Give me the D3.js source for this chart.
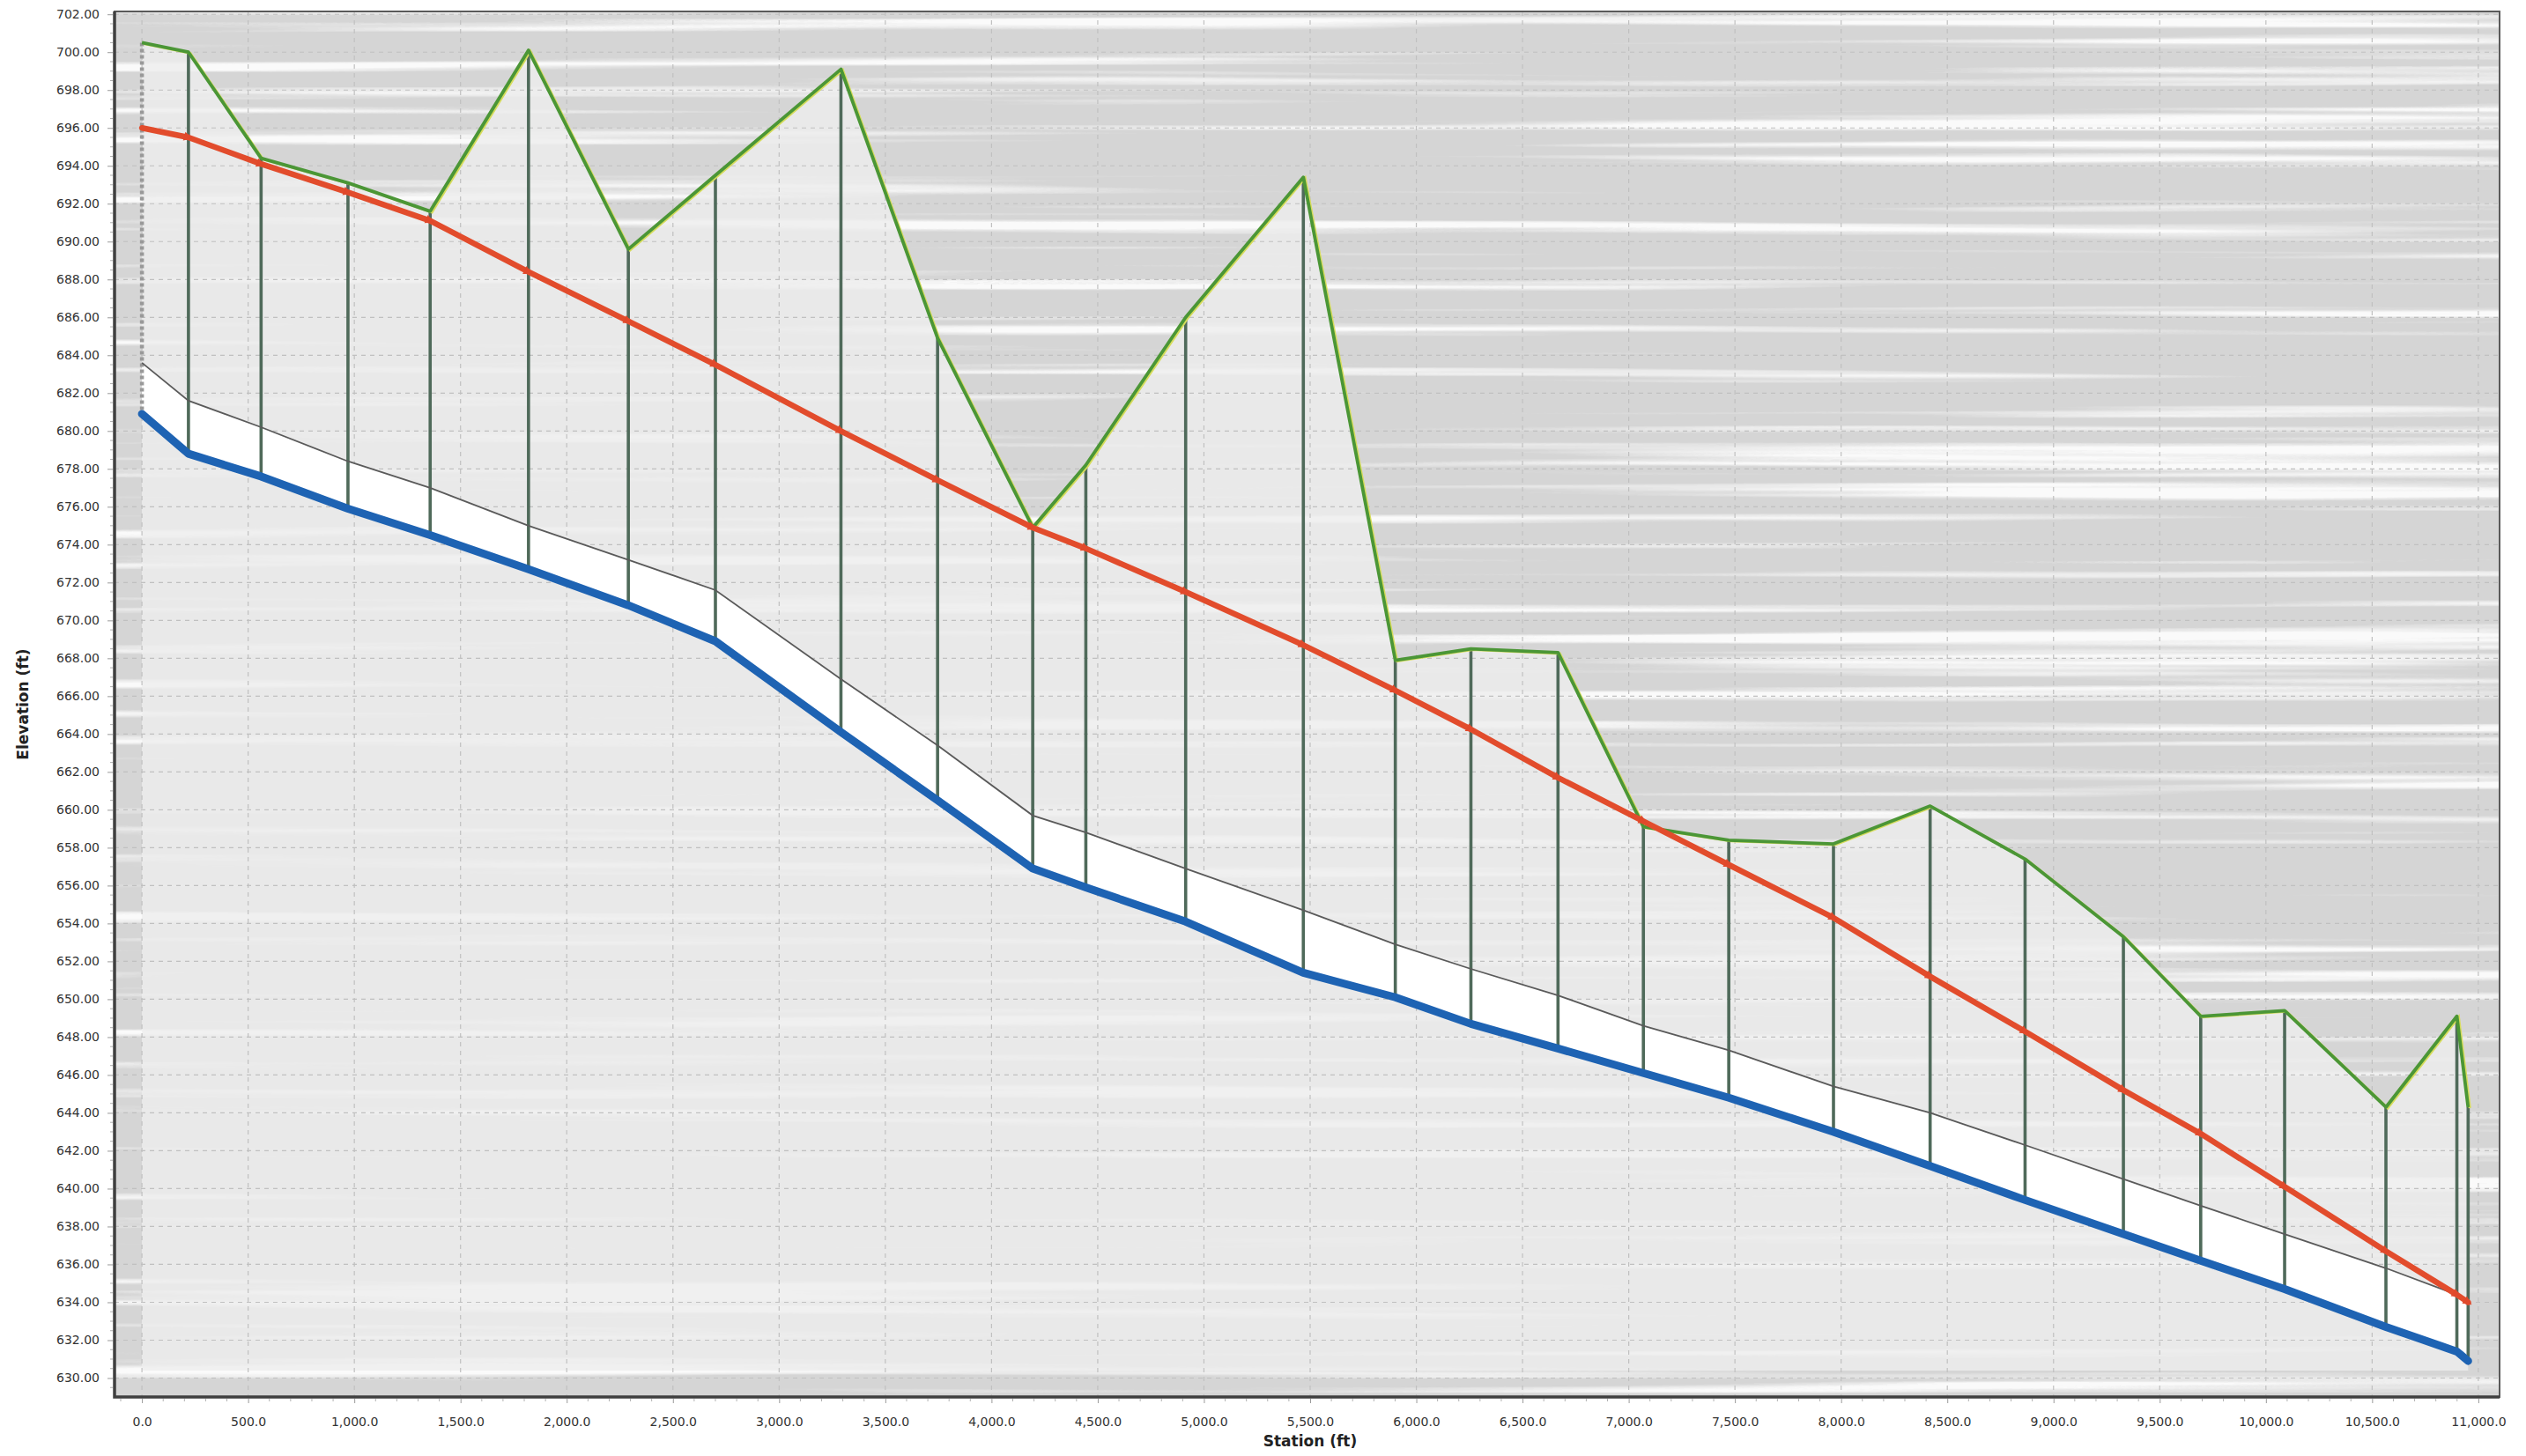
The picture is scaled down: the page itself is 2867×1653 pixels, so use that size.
<!DOCTYPE html>
<html>
<head>
<meta charset="utf-8">
<script src="https://cdn.jsdelivr.net/npm/d3@7"></script>
<style>
  body { margin: 0; background: #fff; }
  svg { display: block; font-family: "DejaVu Sans", Verdana, sans-serif; }
</style>
</head>
<body>
<svg width="2867" height="1653"></svg>
<script>
// manhole stations (ft) along the run, and the elevations (ft) at each one
const stations = [0, 219, 561, 970, 1357, 1820, 2290, 2700, 3291, 3746, 4194, 4444, 4914, 5468,
  5901, 6257, 6667, 7069, 7471, 7964, 8419, 8866, 9329, 9693, 10088, 10565, 10899, 10952]
const groundElev = [700.5, 700.0, 694.4, 693.1, 691.6, 700.1, 689.6, 693.5, 699.1, 684.9, 674.9, 678.2, 686.0, 693.4,
  667.9, 668.5, 668.3, 659.1, 658.4, 658.2, 660.2, 657.4, 653.3, 649.1, 649.4, 644.3, 649.1, 644.3]
const hglElev = [696.0, 695.5, 694.1, 692.6, 691.1, 688.4, 685.8, 683.5, 680.0, 677.4, 674.9, 673.8, 671.5, 668.7,
  666.3, 664.25, 661.7, 659.4, 657.1, 654.3, 651.2, 648.3, 645.2, 642.9, 640.1, 636.7, 634.4, 634.0]
const crownElev = [683.6, 681.6, 680.2, 678.4, 677.0, 675.0, 673.2, 671.6, 666.9, 663.4, 659.7, 658.8, 656.9, 654.7,
  652.9, 651.6, 650.2, 648.6, 647.3, 645.4, 644.0, 642.3, 640.5, 639.1, 637.6, 635.8, 634.4, 634.1]
const invertElev = [680.9, 678.8, 677.6, 675.9, 674.5, 672.7, 670.8, 668.9, 664.1, 660.5, 656.9, 655.9, 654.1, 651.4,
  650.1, 648.7, 647.4, 646.1, 644.8, 643.0, 641.2, 639.4, 637.6, 636.2, 634.7, 632.7, 631.4, 630.9]

const xTicks = d3.range(0, 11001, 500)
const yTicks = d3.range(630, 702.01, 2)

const rows = stations.map((s, i) => ({
  s: s,
  ground: groundElev[i],
  hgl: hglElev[i],
  crown: crownElev[i],
  invert: invertElev[i]
}))

var svg = d3.select("svg"),
    width = +svg.attr("width"),
    height = +svg.attr("height");

const margin = { top: 13, right: 30, bottom: 67, left: 130 }
const x0 = margin.left, x1 = width - margin.right
const y0 = margin.top, y1 = height - margin.bottom

const x = d3.scaleLinear().domain([-129, 11100]).range([x0, x1])
const y = d3.scaleLinear().domain([629.0, 702.15]).range([y1, y0])

const defs = svg.append("defs")
defs.append("clipPath").attr("id", "plotclip")
  .append("rect").attr("x", x0).attr("y", y0).attr("width", x1 - x0).attr("height", y1 - y0)

// scanned-paper look: thin horizontal light streaks
const streaks = defs.append("filter").attr("id", "streaks")
  .attr("filterUnits", "userSpaceOnUse")
  .attr("x", x0).attr("y", y0).attr("width", x1 - x0).attr("height", y1 - y0)
streaks.append("feTurbulence")
  .attr("type", "fractalNoise")
  .attr("baseFrequency", "0.0006 0.06")
  .attr("numOctaves", 3)
  .attr("seed", 11)
streaks.append("feColorMatrix")
  .attr("type", "matrix")
  .attr("values", "0 0 0 0 1  0 0 0 0 1  0 0 0 0 1  5 0 0 0 -2.75")

// red arrow marks on the hydraulic grade line
defs.append("marker").attr("id", "arrow")
  .attr("viewBox", "-6 -6 12 12")
  .attr("markerWidth", 12).attr("markerHeight", 12)
  .attr("markerUnits", "userSpaceOnUse")
  .attr("orient", "auto")
  .append("path").attr("d", "M-5,-5L5,0L-5,5Z").attr("fill", "#e0492b")

const plot = svg.append("g").attr("clip-path", "url(#plotclip)")

plot.append("rect")
  .attr("x", x0).attr("y", y0).attr("width", x1 - x0).attr("height", y1 - y0)
  .attr("fill", "#d5d5d5")

plot.append("rect")
  .attr("x", x0).attr("y", y0).attr("width", x1 - x0).attr("height", y1 - y0)
  .attr("filter", "url(#streaks)")
  .attr("opacity", 0.9)

// lighter ground below the surface line
const below = d3.area()
  .x(d => x(d.s))
  .y0(y(630.4))
  .y1(d => y(d.ground))
plot.append("path").datum(rows)
  .attr("d", below)
  .attr("fill", "#eeeeee")
  .attr("opacity", 0.8)

// dashed grid
plot.append("g").selectAll("line").data(yTicks).join("line")
  .attr("x1", x0).attr("x2", x1)
  .attr("y1", d => y(d)).attr("y2", d => y(d))
  .attr("stroke", "#c0c0c0")
  .attr("stroke-width", 1.2)
  .attr("stroke-dasharray", "5,5")
plot.append("g").selectAll("line").data(xTicks).join("line")
  .attr("x1", d => x(d)).attr("x2", d => x(d))
  .attr("y1", y0).attr("y2", y1)
  .attr("stroke", "#c0c0c0")
  .attr("stroke-width", 1.2)
  .attr("stroke-dasharray", "5,5")

// pipe barrel (crown to invert)
const barrel = d3.area()
  .x(d => x(d.s))
  .y0(d => y(d.invert))
  .y1(d => y(d.crown))
plot.append("path").datum(rows)
  .attr("d", barrel)
  .attr("fill", "#ffffff")

// manholes: from rim down to invert
plot.append("g").selectAll("line").data(rows).join("line")
  .attr("x1", d => x(d.s)).attr("x2", d => x(d.s))
  .attr("y1", d => y(d.ground)).attr("y2", d => y(d.invert))
  .attr("stroke", (d, i) => i === 0 ? "#999" : "#4f6a5a")
  .attr("stroke-width", (d, i) => i === 0 ? 4.5 : 3.6)
  .attr("stroke-dasharray", (d, i) => i === 0 ? "4,3" : null)

const line = key => d3.line().x(d => x(d.s)).y(d => y(d[key]))

plot.append("path").datum(rows)
  .attr("d", line("crown"))
  .attr("fill", "none")
  .attr("stroke", "#5a5a5a")
  .attr("stroke-width", 1.8)

// ground surface (yellow fringe from the scan, then green)
plot.append("path").datum(rows)
  .attr("d", line("ground"))
  .attr("transform", "translate(2,1)")
  .attr("fill", "none")
  .attr("stroke", "#d6dc5c")
  .attr("stroke-width", 3)
plot.append("path").datum(rows)
  .attr("d", line("ground"))
  .attr("fill", "none")
  .attr("stroke", "#4b9636")
  .attr("stroke-width", 3.8)
  .attr("stroke-linejoin", "round")

plot.append("path").datum(rows)
  .attr("d", line("invert"))
  .attr("fill", "none")
  .attr("stroke", "#1e63b3")
  .attr("stroke-width", 9)
  .attr("stroke-linejoin", "round")
  .attr("stroke-linecap", "round")

plot.append("path").datum(rows)
  .attr("d", line("hgl"))
  .attr("fill", "none")
  .attr("stroke", "#e24c2c")
  .attr("stroke-width", 6.5)
  .attr("stroke-linejoin", "round")
  .attr("stroke-linecap", "round")
  .attr("marker-mid", "url(#arrow)")
  .attr("marker-end", "url(#arrow)")

// frame
svg.append("rect")
  .attr("x", x0).attr("y", y0).attr("width", x1 - x0).attr("height", y1 - y0)
  .attr("fill", "none")
  .attr("stroke", "#5a5a5a")
  .attr("stroke-width", 2)
svg.append("path")
  .attr("d", `M${x0},${y0}V${y1}H${x1}`)
  .attr("fill", "none")
  .attr("stroke", "#3f3f3f")
  .attr("stroke-width", 3.5)

// axes
const yAxis = svg.append("g")
  .attr("transform", `translate(${x0 - 2},0)`)
  .call(d3.axisLeft(y).tickValues(yTicks).tickFormat(d3.format(".2f")).tickSize(6).tickPadding(9))
const xAxis = svg.append("g")
  .attr("transform", `translate(0,${y1 + 2})`)
  .call(d3.axisBottom(x).tickValues(xTicks).tickFormat(d3.format(",.1f")).tickSize(5).tickPadding(16))

for (const ax of [xAxis, yAxis]) {
  ax.select(".domain").remove()
  ax.selectAll(".tick line").attr("stroke", "#9a9a9a")
  ax.selectAll("text")
    .attr("fill", "#333")
    .style("font-size", "14px")
    .style("font-family", "'DejaVu Sans', Verdana, sans-serif")
}

// minor ticks
svg.append("g").selectAll("line").data(d3.range(629.5, 702, 0.5).filter(v => v % 2 !== 0)).join("line")
  .attr("x1", x0 - 5).attr("x2", x0 - 2)
  .attr("y1", d => y(d)).attr("y2", d => y(d))
  .attr("stroke", "#b0b0b0")
svg.append("g").selectAll("line").data(d3.range(-100, 11100, 100).filter(v => v % 500 !== 0)).join("line")
  .attr("x1", d => x(d)).attr("x2", d => x(d))
  .attr("y1", y1 + 2).attr("y2", y1 + 5)
  .attr("stroke", "#b0b0b0")

svg.append("text")
  .attr("x", (x(0) + x(11000)) / 2)
  .attr("y", 1642)
  .attr("text-anchor", "middle")
  .attr("font-weight", "bold")
  .attr("font-size", 17)
  .attr("fill", "#222")
  .text("Station (ft)")

svg.append("text")
  .attr("transform", `translate(32,${(y0 + y1) / 2}) rotate(-90)`)
  .attr("text-anchor", "middle")
  .attr("font-weight", "bold")
  .attr("font-size", 17)
  .attr("fill", "#222")
  .text("Elevation (ft)")
</script>
</body>
</html>
